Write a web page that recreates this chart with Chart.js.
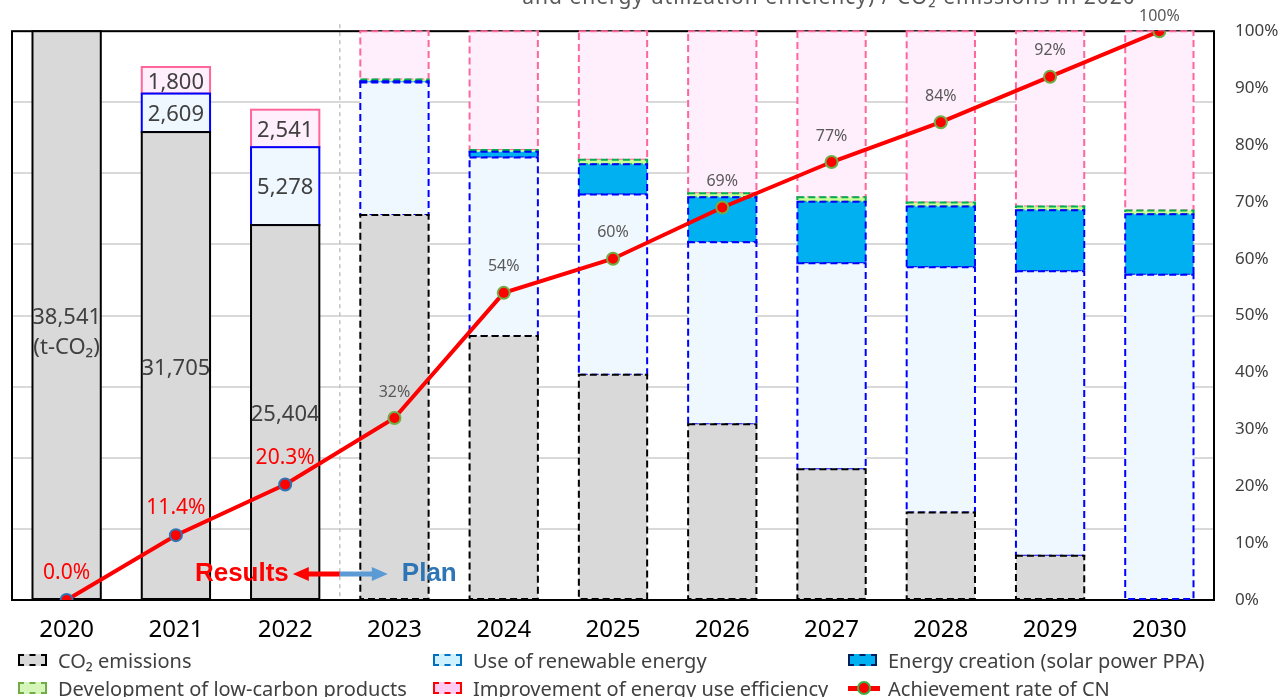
<!DOCTYPE html>
<html><head><meta charset="utf-8">
<script src="https://cdn.jsdelivr.net/npm/chart.js@4.4.1/dist/chart.umd.min.js"></script>
<style>
html,body{margin:0;padding:0;background:#fff;}
#wrap{position:relative;width:1281px;height:697px;overflow:hidden;}
#legend{position:absolute;left:0;top:0;width:1281px;height:697px;pointer-events:none;font-family:"Noto Sans",sans-serif;font-size:20px;color:#404040;}
.item{position:absolute;display:flex;align-items:center;height:26px;white-space:nowrap;}
.box{width:29px;height:12px;border:2px dashed;margin-right:11px;box-sizing:border-box;}
.lm{position:relative;width:32px;height:14px;margin-right:8px;}
.lm .ln{position:absolute;left:0;top:5px;width:32px;height:5px;background:#ff0000;}
.lm .dt{position:absolute;left:9px;top:0;width:14px;height:14px;border-radius:50%;background:#ff0000;border:2px solid #3cb043;box-sizing:border-box;}
</style></head>
<body><div id="wrap"><canvas id="c"></canvas><div id="legend"></div></div>
<script>
// ---- data (t-CO2 for bars, % for achievement line) ----
const years = ['2020','2021','2022','2023','2024','2025','2026','2027','2028','2029','2030'];
const co2Emissions      = [38541, 31705, 25404, 26092, 17883, 15262, 11909, 8864, 5935, 3006, 0];
const renewableEnergy   = [0, 2609, 5278, 8980, 12102, 12218, 12333, 13952, 16611, 19271, 22045];
const energyCreation    = [0, 0, 0, 77, 385, 2043, 3045, 4162, 4124, 4124, 4085];
const lowCarbonProducts = [0, 0, 0, 116, 116, 308, 270, 308, 270, 270, 270];
const efficiencyImprove = [0, 1800, 2541, 3276, 8055, 8710, 10984, 11255, 11601, 11870, 12141];
const achievementRate   = [0, 11.4, 20.3, 32, 54, 60, 69, 77, 84, 92, 100];
const achievementLabels = ['0.0%','11.4%','20.3%','32%','54%','60%','69%','77%','84%','92%','100%'];
const rightTickLabels   = ['0%','10%','20%','30%','40%','50%','60%','70%','80%','90%','100%'];
const baseline2020 = 38541;
const leftGridStep = 5000;
const resultYearCount = 3;
const titleText = 'and energy utilization efficiency) / CO\u2082 emissions in 2020';
const legendLabels = ['CO\u2082 emissions','Use of renewable energy','Energy creation (solar power PPA)',
  'Development of low-carbon products','Improvement of energy use efficiency','Achievement rate of CN'];

const FONT = '"Noto Sans", sans-serif';

const outlinePlugin = {
  id: 'outlines',
  beforeDatasetsDraw(chart) {
    const {ctx, chartArea: a, scales: {x}} = chart;
    const sx = x.getPixelForValue(resultYearCount - 0.5);
    ctx.save();
    ctx.strokeStyle = '#c4c4c4'; ctx.lineWidth = 1.5; ctx.setLineDash([4,4]);
    ctx.beginPath(); ctx.moveTo(sx, a.top - 7); ctx.lineTo(sx, a.bottom); ctx.stroke();
    ctx.setLineDash([]);
    ctx.strokeStyle = '#000'; ctx.lineWidth = 2;
    ctx.strokeRect(a.left, a.top, a.right - a.left, a.bottom - a.top);
    ctx.restore();
  },
  afterDatasetDraw(chart, args) {
    const ds = chart.data.datasets[args.index];
    if (!ds.outline) return;
    const ctx = chart.ctx;
    args.meta.data.forEach((el, i) => {
      const p = el.getProps(['x','y','base','width'], true);
      if (Math.abs(p.base - p.y) < 0.5) return;
      ctx.save();
      ctx.strokeStyle = ds.outline; ctx.lineWidth = 2;
      ctx.setLineDash(i >= resultYearCount ? [7,4] : []);
      ctx.strokeRect(p.x - p.width/2, Math.min(p.y, p.base), p.width, Math.abs(p.base - p.y));
      ctx.restore();
    });
  },
  afterDraw(chart) {
    const {ctx, chartArea: a, scales: {x}} = chart;
    ctx.save();
    ctx.textAlign = 'center'; ctx.textBaseline = 'middle';
    ctx.fillStyle = '#404040'; ctx.font = '22px ' + FONT;
    [0,1,4].forEach(di => {
      const meta = chart.getDatasetMeta(di);
      for (let i = 0; i < resultYearCount; i++) {
        const v = chart.data.datasets[di].data[i];
        if (!v) continue;
        const p = meta.data[i].getProps(['x','y','base'], true);
        const cy = (p.y + p.base) / 2 + (di === 0 ? 3 : 2);
        ctx.fillText(v.toLocaleString('en-US'), p.x, cy);
        if (di === 0 && i === 0) ctx.fillText('(t-CO\u2082)', p.x, cy + 30);
      }
    });
    const lm = chart.getDatasetMeta(5);
    lm.data.forEach((pt, i) => {
      const ly = Math.max(pt.y - 26, 16);
      if (i < resultYearCount) { ctx.fillStyle = '#ff0000'; ctx.font = '21px ' + FONT; ctx.fillText(achievementLabels[i], pt.x, pt.y - 27); }
      else { ctx.fillStyle = '#595959'; ctx.font = '16px ' + FONT; ctx.fillText(achievementLabels[i], pt.x, ly); }
    });
    const sx = x.getPixelForValue(resultYearCount - 0.5);
    const ay = a.bottom - 26;
    ctx.font = 'bold 26px "Liberation Sans", Arial, sans-serif';
    ctx.fillStyle = '#ff0000'; ctx.textAlign = 'right';
    ctx.fillText('Results', sx - 51, ay);
    ctx.fillRect(sx - 34, ay - 2.5, 34, 5);
    ctx.beginPath(); ctx.moveTo(sx - 47, ay); ctx.lineTo(sx - 31, ay - 7); ctx.lineTo(sx - 31, ay + 7); ctx.closePath(); ctx.fill();
    ctx.fillStyle = '#5b9bd5';
    ctx.fillRect(sx, ay - 2.5, 34, 5);
    ctx.beginPath(); ctx.moveTo(sx + 48, ay); ctx.lineTo(sx + 32, ay - 7); ctx.lineTo(sx + 32, ay + 7); ctx.closePath(); ctx.fill();
    ctx.fillStyle = '#2e75b6'; ctx.textAlign = 'left';
    ctx.fillText('Plan', sx + 62, ay);
    ctx.font = '21px ' + FONT; ctx.fillStyle = '#595959'; ctx.textAlign = 'center'; ctx.textBaseline = 'alphabetic';
    try { ctx.letterSpacing = '1px'; } catch (e) {}
    ctx.fillText(titleText, 829, 4);
    ctx.restore();
  }
};

const barCommon = {type: 'bar', stack: 's', yAxisID: 'y', borderWidth: 0, order: 1,
  categoryPercentage: 1, barPercentage: 0.625};

new Chart(document.getElementById('c'), {
  data: {
    labels: years,
    datasets: [
      Object.assign({label: legendLabels[0], data: co2Emissions, backgroundColor: '#d9d9d9', outline: '#000000'}, barCommon),
      Object.assign({label: legendLabels[1], data: renewableEnergy, backgroundColor: '#eff8fe', outline: '#0000ff'}, barCommon),
      Object.assign({label: legendLabels[2], data: energyCreation, backgroundColor: '#00b0f0', outline: '#0000ff'}, barCommon),
      Object.assign({label: legendLabels[3], data: lowCarbonProducts, backgroundColor: '#ccff99', outline: '#00b050'}, barCommon),
      Object.assign({label: legendLabels[4], data: efficiencyImprove, backgroundColor: '#ffeefc', outline: '#ff6699'}, barCommon),
      {type: 'line', label: legendLabels[5], data: achievementRate, yAxisID: 'y1', order: 0,
        borderColor: '#ff0000', borderWidth: 4, tension: 0,
        pointRadius: 6, pointBorderWidth: 2, pointBackgroundColor: '#ff0000',
        pointBorderColor: achievementRate.map((v, i) => i < resultYearCount ? '#2e75b6' : '#70ad47')}
    ]
  },
  options: {
    responsive: true, maintainAspectRatio: false, animation: false,
    layout: {padding: {left: 12, top: 30, right: 0, bottom: 57}},
    plugins: {legend: {display: false}, tooltip: {enabled: false}},
    scales: {
      x: {grid: {display: false, drawTicks: false}, border: {display: false},
        ticks: {font: {family: FONT, size: 24}, color: '#000', padding: 16},
        afterFit: s => { s.height = 40; }},
      y: {position: 'left', stacked: true, min: 0, max: baseline2020,
        grid: {color: '#d9d9d9', lineWidth: 2, drawTicks: false}, border: {display: false},
        ticks: {display: false, stepSize: leftGridStep},
        afterFit: s => { s.width = 0; }},
      y1: {position: 'right', min: 0, max: 100,
        grid: {display: false, drawTicks: false}, border: {display: false},
        ticks: {stepSize: 10, padding: 21, font: {family: FONT, size: 17}, color: '#404040',
          callback: (v, i) => rightTickLabels[i]},
        afterFit: s => { s.width = 67; }}
    }
  },
  plugins: [outlinePlugin]
});

const legendItems = [
  {x: 18, row: 0, fill: '#d9d9d9', border: '#000000'},
  {x: 433, row: 0, fill: '#cdf1ff', border: '#0070c0'},
  {x: 848, row: 0, fill: '#00b0f0', border: '#002060'},
  {x: 18, row: 1, fill: '#d6f5b8', border: '#70ad47'},
  {x: 433, row: 1, fill: '#ffccf5', border: '#ff0000'},
  {x: 848, row: 1, line: true}
];
const lg = document.getElementById('legend');
legendItems.forEach((it, i) => {
  const d = document.createElement('div');
  d.className = 'item';
  d.style.left = it.x + 'px';
  d.style.top = (it.row === 0 ? 647 : 675) + 'px';
  let marker;
  if (it.line) {
    marker = document.createElement('div'); marker.className = 'lm';
    marker.innerHTML = '<div class="ln"></div><div class="dt"></div>';
  } else {
    marker = document.createElement('div'); marker.className = 'box';
    marker.style.background = it.fill; marker.style.borderColor = it.border;
  }
  d.appendChild(marker);
  const t = document.createElement('span'); t.textContent = legendLabels[i];
  d.appendChild(t);
  lg.appendChild(d);
});
</script>
</body></html>
